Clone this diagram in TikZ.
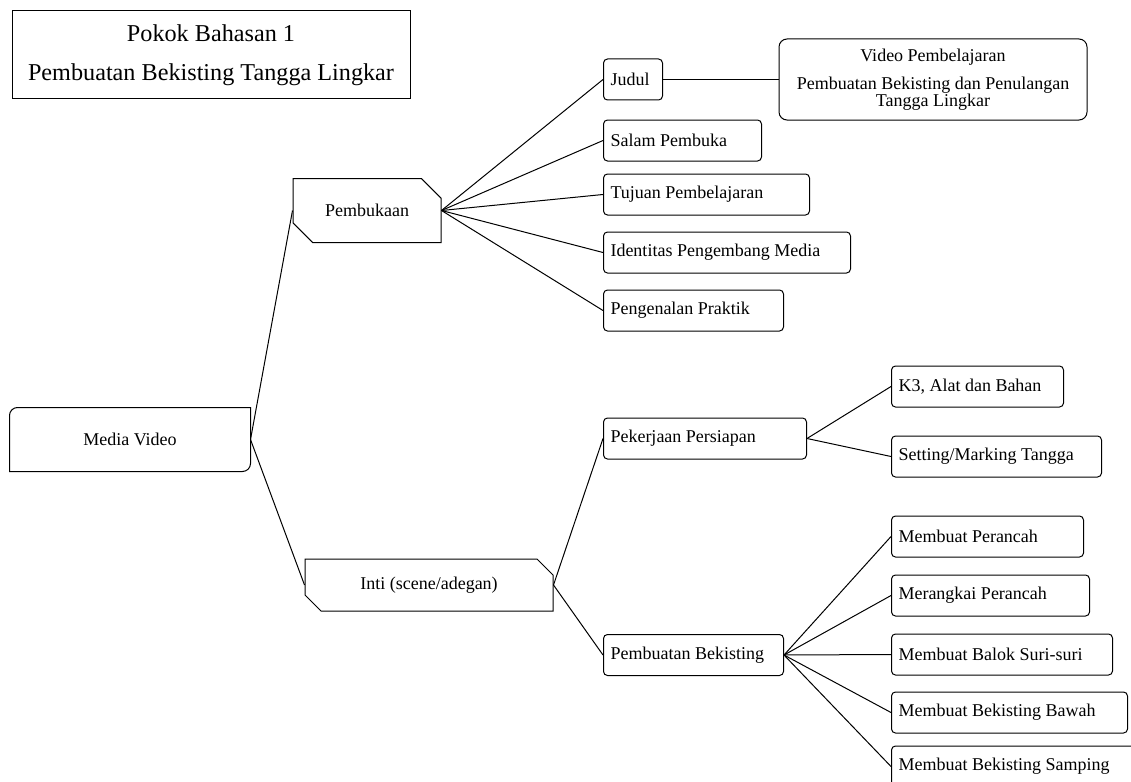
\documentclass[tikz,border=0pt]{standalone}
\usepackage{fontspec}
\setmainfont{Liberation Serif}
\usetikzlibrary{shapes.misc, positioning}

\begin{document}
\begin{tikzpicture}[x=1pt,y=-1pt,line width=1pt,font=\fontsize{18}{17}\selectfont,
  leaf/.style={draw,rounded corners=4pt,minimum height=41pt,inner xsep=7pt,anchor=west,align=flush left},
  cut/.style={draw,chamfered rectangle,chamfered rectangle corners={north east,south west},
    chamfered rectangle xsep=#1,chamfered rectangle ysep=#1},
  link/.style={line width=1pt}]
  \useasboundingbox (0,0) rectangle (1131,781);
  \node[draw,minimum width=398pt,minimum height=88pt,align=center,font=\fontsize{24.2}{28}\selectfont] (title) at (211,55) {Pokok Bahasan 1\\[11pt]Pembuatan Bekisting Tangga Lingkar};
  \node[minimum width=240pt,minimum height=63pt] (media) at (130,439.5) {Media Video};
  \draw ([xshift=8pt]media.north west) -- (media.north east) -- ([yshift=8pt]media.south east)
    arc[start angle=0,end angle=-90,radius=8pt] -- (media.south west) -- ([yshift=-8pt]media.north west)
    arc[start angle=180,end angle=90,radius=8pt] -- cycle;
  \node[cut=10pt,minimum width=148pt,minimum height=64pt] (pembukaan) at (367,210.5) {Pembukaan};
  \node[cut=8pt,minimum width=248pt,minimum height=52pt] (inti) at (429,585) {Inti (scene/adegan)};
  \node[leaf,text width=45pt] (judul) at (603,79.5) {Judul};
  \node[leaf,text width=144pt] (salam) at (603,140.5) {Salam Pembuka};
  \node[leaf,text width=192pt] (tujuan) at (603,194.5) {Tujuan Pembelajaran};
  \node[leaf,text width=233pt] (identitas) at (603,252.5) {Identitas Pengembang Media};
  \node[leaf,text width=166pt] (pengenalan) at (603,310.5) {Pengenalan Praktik};
  \node[draw,rounded corners=8pt,minimum width=308pt,minimum height=81pt,align=center] (video) at (933,79.5) {Video Pembelajaran\\[11pt]Pembuatan Bekisting dan Penulangan\\Tangga Lingkar};
  \node[leaf,text width=189pt] (persiapan) at (603,438.5) {Pekerjaan Persiapan};
  \node[leaf,text width=166pt] (bekisting) at (603,655) {Pembuatan Bekisting};
  \node[leaf,text width=158pt] (k3) at (891,386.5) {K3, Alat dan Bahan};
  \node[leaf,text width=196pt] (marking) at (891,456.5) {Setting/Marking Tangga};
  \node[leaf,text width=178pt] (perancah) at (891,536.5) {Membuat Perancah};
  \node[leaf,text width=184pt] (merangkai) at (891,595.5) {Merangkai Perancah};
  \node[leaf,text width=207pt] (balok) at (891,654.5) {Membuat Balok Suri-suri};
  \node[leaf,text width=222pt] (bawah) at (891,712.5) {Membuat Bekisting Bawah};
  \node[leaf,text width=236pt] (samping) at (891,766.5) {Membuat Bekisting Samping};
  \draw[link] (media.east) -- (pembukaan.west);
  \draw[link] (media.east) -- (inti.west);
  \foreach \n in {judul,salam,tujuan,identitas,pengenalan}
    \draw[link] (pembukaan.east) -- (\n.west);
  \draw[link] (judul.east) -- (video.west);
  \draw[link] (inti.east) -- (persiapan.west);
  \draw[link] (inti.east) -- (bekisting.west);
  \foreach \n in {k3,marking}
    \draw[link] (persiapan.east) -- (\n.west);
  \foreach \n in {perancah,merangkai,balok,bawah,samping}
    \draw[link] (bekisting.east) -- (\n.west);
\end{tikzpicture}
\end{document}
